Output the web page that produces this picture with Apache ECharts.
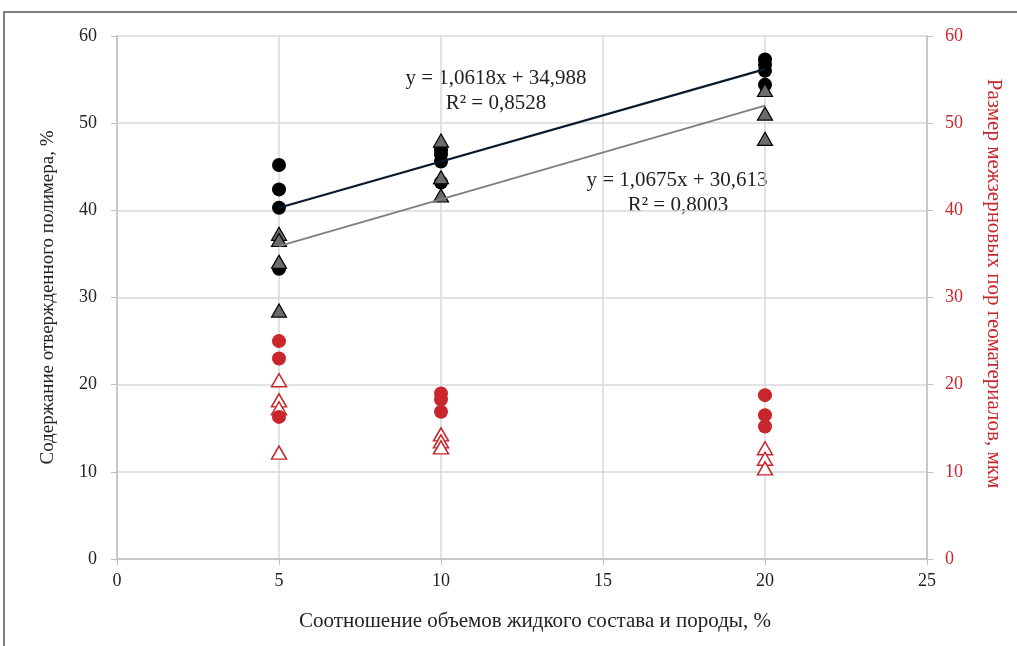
<!DOCTYPE html>
<html>
<head>
<meta charset="utf-8">
<script src="https://cdn.jsdelivr.net/npm/echarts@6/dist/echarts.min.js"></script>
<style>
  html, body { margin: 0; padding: 0; background: #fff; }
  #chart { width: 1017px; height: 646px; }
</style>
</head>
<body>
<div id="chart"></div>
<script>
// x positions (объем жидкого состава, %)
var xs = [5, 10, 20];
// Содержание отвержденного полимера (левая ось)
var blackCircles = [[45.2, 42.4, 40.3, 33.3], [46.9, 46.4, 45.6, 43.2], [57.3, 56.7, 56.0, 54.4]];
var grayTriangles = [[37.3, 36.6, 34.1, 28.5], [48.0, 43.8, 41.7], [53.8, 51.1, 48.2]];
// Размер межзерновых пор (правая ось)
var redCircles = [[25.0, 23.0, 16.3], [19.0, 18.3, 16.9], [18.8, 16.5, 15.2]];
var redTriangles = [[20.5, 18.2, 17.3, 12.2], [14.3, 13.5, 12.8], [12.7, 11.5, 10.4]];
// линии тренда
var trendBlack = [[5, 40.3], [20, 56.2]];
var trendGray = [[5, 35.9], [20, 52.0]];
var yTicks = [0, 10, 20, 30, 40, 50, 60];
var xTicks = [0, 5, 10, 15, 20, 25];

function pairs(groups) {
  var out = [];
  groups.forEach(function (g, i) {
    g.forEach(function (v) { out.push([xs[i], v]); });
  });
  return out;
}

var serif = 'Liberation Serif';
var red = '#c8262c';
var txt = '#222';
var eqFont = '21px "Liberation Serif"';

function label(x, y, s) {
  return { type: 'text', x: x, y: y, silent: true,
    style: { text: s, font: eqFont, fill: txt, textAlign: 'center', textVerticalAlign: 'middle' } };
}

var myChart = echarts.init(document.getElementById('chart'));
var option = {
  animation: false,
  backgroundColor: '#fff',
  grid: { left: 117, right: 90, top: 36, bottom: 87 },
  graphic: [
    { type: 'rect', shape: { x: 4, y: 12, width: 1100, height: 700 },
      style: { fill: 'none', stroke: '#555', lineWidth: 1.5 }, silent: true },
    label(496, 78, 'y = 1,0618x + 34,988'),
    label(496, 103, 'R² = 0,8528'),
    label(677, 180, 'y = 1,0675x + 30,613'),
    label(678, 205, 'R² = 0,8003')
  ],
  xAxis: {
    type: 'value', min: xTicks[0], max: xTicks[xTicks.length - 1], interval: 5,
    name: 'Соотношение объемов жидкого состава и породы, %',
    nameLocation: 'middle', nameGap: 52,
    nameTextStyle: { fontFamily: serif, fontSize: 21, color: txt, padding: [0, 0, 0, 26] },
    axisLine: { show: true, lineStyle: { color: '#bfbfbf', width: 1.5 } },
    axisTick: { show: true, length: 6, lineStyle: { color: '#bfbfbf' } },
    axisLabel: { fontFamily: serif, fontSize: 18, color: txt, margin: 13 },
    splitLine: { show: true, lineStyle: { color: '#d9d9d9', width: 1.5 } }
  },
  yAxis: [
    {
      type: 'value', min: yTicks[0], max: yTicks[yTicks.length - 1], interval: 10,
      name: 'Содержание отвержденного полимера, %',
      nameLocation: 'middle', nameGap: 59, nameRotate: 90,
      nameTextStyle: { fontFamily: serif, fontSize: 19, color: txt },
      axisLine: { show: true, lineStyle: { color: '#bfbfbf', width: 1.5 } },
      axisTick: { show: true, length: 6, lineStyle: { color: '#bfbfbf' } },
      axisLabel: { fontFamily: serif, fontSize: 18, color: txt, margin: 20 },
      splitLine: { show: true, lineStyle: { color: '#d9d9d9', width: 1.5 } }
    },
    {
      type: 'value', position: 'right', min: yTicks[0], max: yTicks[yTicks.length - 1], interval: 10,
      name: 'Размер межзерновых пор геоматериалов, мкм',
      nameLocation: 'middle', nameGap: 56, nameRotate: -90,
      nameTextStyle: { fontFamily: serif, fontSize: 21, color: red, padding: [0, 28, 0, 0] },
      axisLine: { show: true, lineStyle: { color: '#bfbfbf', width: 1.5 } },
      axisTick: { show: true, length: 6, lineStyle: { color: '#bfbfbf' } },
      axisLabel: { fontFamily: serif, fontSize: 18, color: red, margin: 18 },
      splitLine: { show: false }
    }
  ],
  series: [
    {
      name: 'red-tri', type: 'scatter', yAxisIndex: 1, data: pairs(redTriangles),
      symbol: 'triangle', symbolSize: [15, 13],
      itemStyle: { color: '#fff', borderColor: red, borderWidth: 1.5, opacity: 1 }
    },
    {
      name: 'red-circ', type: 'scatter', yAxisIndex: 1, data: pairs(redCircles),
      symbol: 'circle', symbolSize: 14,
      itemStyle: { color: red, opacity: 1 }
    },
    {
      name: 'black', type: 'scatter', data: pairs(blackCircles),
      symbol: 'circle', symbolSize: 14,
      itemStyle: { color: '#000', opacity: 1 }
    },
    {
      name: 'gray', type: 'scatter', data: pairs(grayTriangles),
      symbol: 'triangle', symbolSize: [15, 13],
      itemStyle: { color: '#6b6b6b', borderColor: '#000', borderWidth: 1.2, opacity: 1 }
    },
    {
      name: 'trend-gray', type: 'line', data: trendGray, symbol: 'none',
      lineStyle: { color: '#7f7f7f', width: 1.8 }
    },
    {
      name: 'trend-black', type: 'line', data: trendBlack, symbol: 'none',
      lineStyle: { color: '#0b1a2b', width: 2.2 }
    }
  ]
};
myChart.setOption(option);
window.addEventListener('resize', function () { myChart.resize(); });
</script>
</body>
</html>
